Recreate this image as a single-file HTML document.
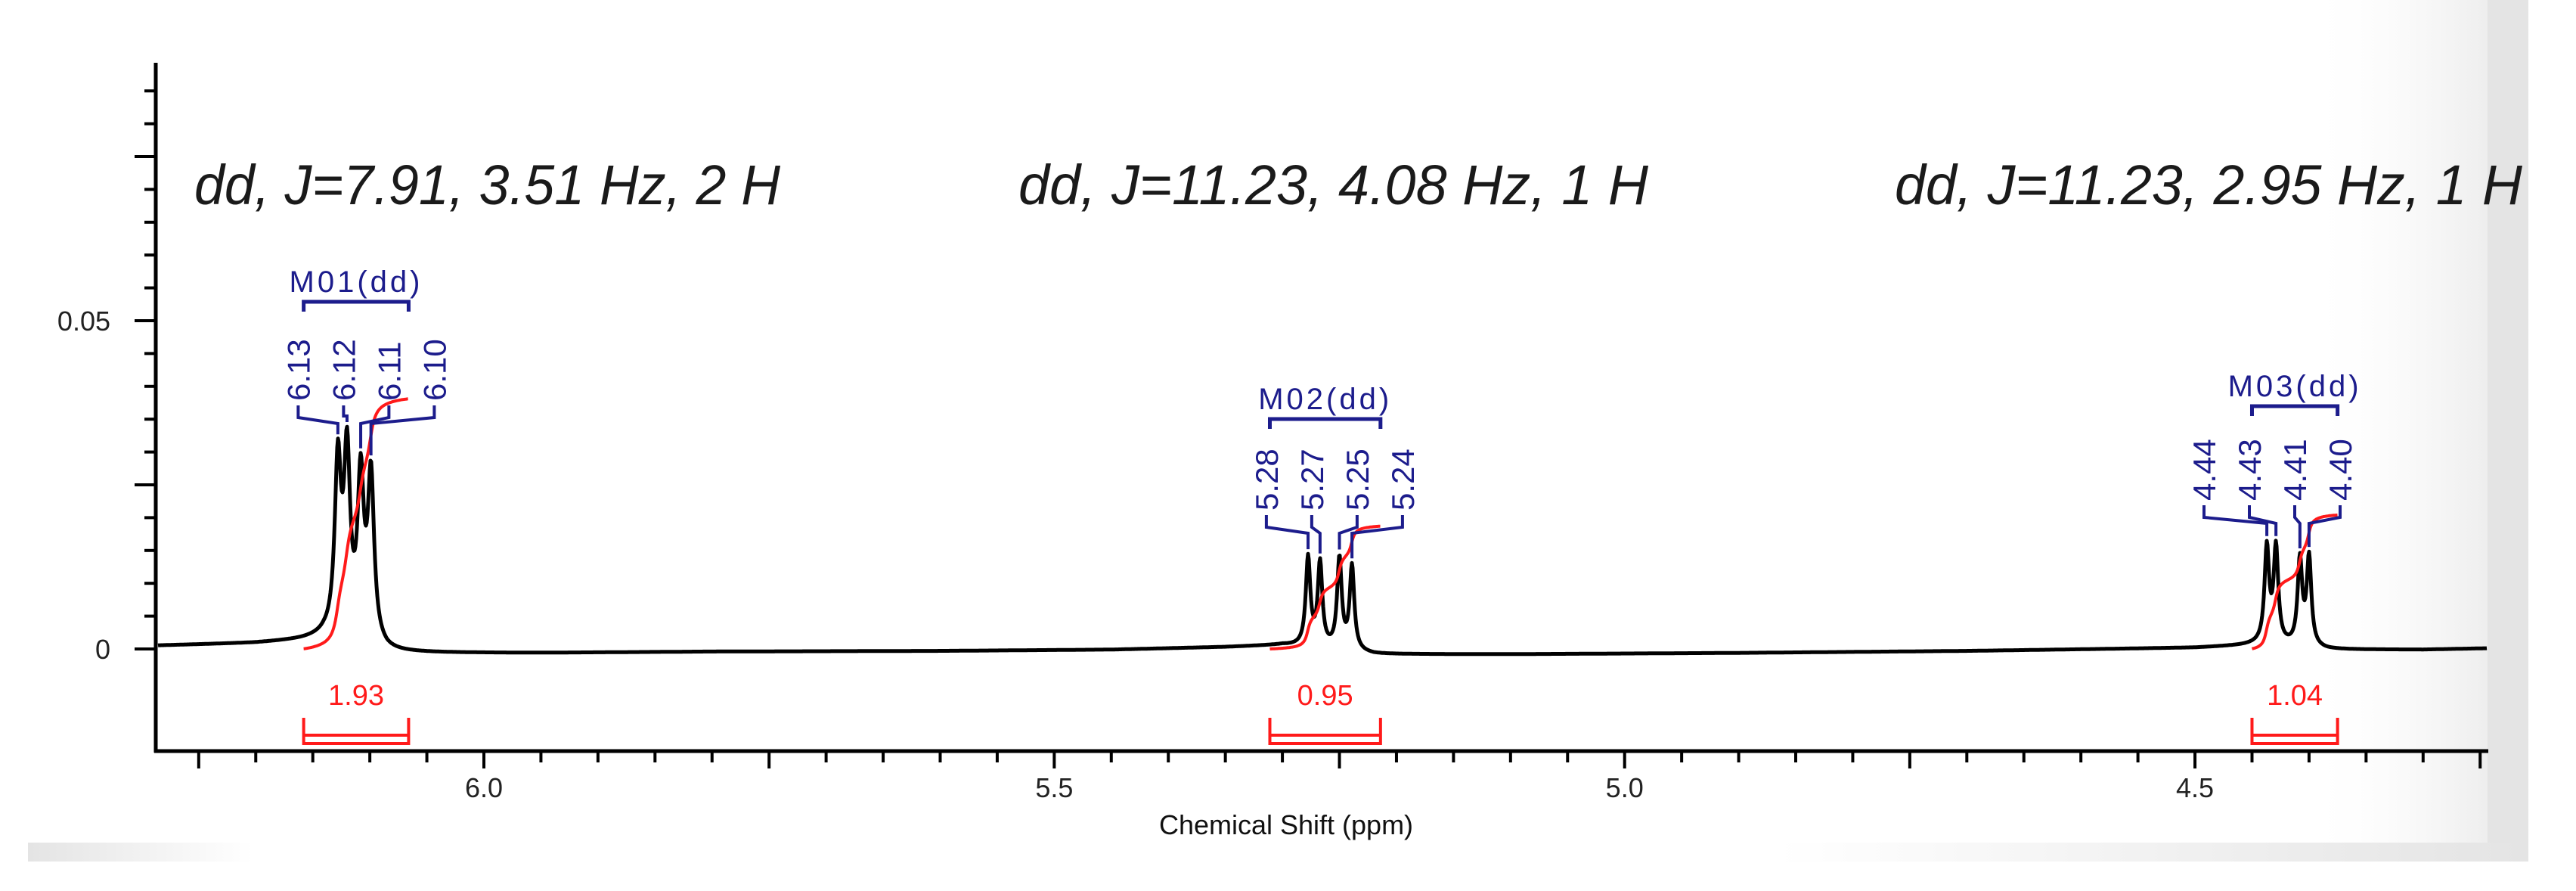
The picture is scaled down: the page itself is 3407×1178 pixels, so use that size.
<!DOCTYPE html>
<html><head><meta charset="utf-8"><style>
html,body{margin:0;padding:0;background:#fff;}
svg{display:block;}
text{font-family:"Liberation Sans",sans-serif;}
</style></head><body>
<svg id="chart" width="3407" height="1178" viewBox="0 0 3407 1178" xmlns="http://www.w3.org/2000/svg">
<defs>
<linearGradient id="gR" x1="0" x2="1" y1="0" y2="0"><stop offset="0" stop-color="#ffffff" stop-opacity="0"/><stop offset="1" stop-color="#e2e2e2"/></linearGradient>
<linearGradient id="gB" x1="0" x2="1" y1="0" y2="0"><stop offset="0" stop-color="#e4e4e4"/><stop offset="0.09" stop-color="#ffffff"/><stop offset="0.7" stop-color="#ffffff"/><stop offset="1" stop-color="#e4e4e4"/></linearGradient>
</defs>
<rect x="0" y="0" width="3407" height="1178" fill="#fff"/>
<rect x="3050" y="0" width="240" height="1114" fill="url(#gR)" opacity="0.6"/>
<rect x="3290" y="0" width="54" height="1139" fill="#e4e4e4"/>
<rect x="37" y="1114" width="3307" height="25" fill="url(#gB)"/>
<g id="axes"></g>
<g id="plot"></g>
<text x="1701" y="1103" font-size="36" text-anchor="middle" fill="#111">Chemical Shift (ppm)</text>
<g font-style="italic" font-size="74" fill="#1a1a1a">
<text x="257" y="270" textLength="775" lengthAdjust="spacingAndGlyphs">dd, J=7.91, 3.51 Hz, 2 H</text>
<text x="1347" y="270" textLength="833" lengthAdjust="spacingAndGlyphs">dd, J=11.23, 4.08 Hz, 1 H</text>
<text x="2506" y="270" textLength="830" lengthAdjust="spacingAndGlyphs">dd, J=11.23, 2.95 Hz, 1 H</text>
</g>
</svg>
<script>
// ---- data ----
const xTickLabels = [6.0, 5.5, 5.0, 4.5];
const yTickLabels = [0, 0.05];
const peakPpm    = [6.128, 6.120, 6.108, 6.099, 5.2775, 5.267, 5.250, 5.239, 4.437, 4.429, 4.408, 4.400];
const peakHeight = [0.026, 0.027, 0.024, 0.025, 0.0135, 0.0128, 0.0138, 0.0128, 0.0145, 0.0145, 0.0130, 0.0135];
const peakWidth  = [0.0033, 0.0033, 0.0033, 0.0033, 0.0024, 0.0024, 0.0024, 0.0024, 0.0024, 0.0024, 0.0024, 0.0024];
const peakLabels = ["6.13","6.12","6.11","6.10","5.28","5.27","5.25","5.24","4.44","4.43","4.41","4.40"];
const basePpm = [6.29, 6.2, 6.16, 6.14, 6.085, 5.95, 5.8, 5.6, 5.45, 5.35, 5.30, 5.22, 5.1, 4.9, 4.7, 4.5, 4.46, 4.44, 4.385, 4.3, 4.244];
const baseVal = [0.0005, 0.0009, 0.0013, 0.0016, -0.0006, -0.0006, -0.0004, -0.0003, -0.0001, 0.0003, 0.0006, -0.0008, -0.0008, -0.0006, -0.0003, 0.0002, 0.0005, 0.0007, -0.0001, -0.0001, 0.0001];
const multNames = ["M01(dd)", "M02(dd)", "M03(dd)"];
const multStart = [6.158, 5.311, 4.450];
const multEnd   = [6.066, 5.214, 4.375];
const integralValues = ["1.93", "0.95", "1.04"];
const integralLevel  = [0.0381, 0.0187, 0.0204];

// ---- scales ----
const X0 = 206, X1 = 3289, Y0 = 858;
function X(v){ return 640 + (6.0 - v) * 1508.7; }
function Y(v){ return Y0 - v * 8680; }
function V(px){ return 6.0 - (px - 640) / 1508.7; }
const NS = "http://www.w3.org/2000/svg";
function mk(tag, attrs, parent){ const e = document.createElementNS(NS, tag); for (const k in attrs) e.setAttribute(k, attrs[k]); parent.appendChild(e); return e; }
const axes = document.getElementById('axes');
const plot = document.getElementById('plot');

function baseline(v){
  for (let i = 0; i < basePpm.length - 1; i++){
    const a = basePpm[i], b = basePpm[i+1];
    if (v <= a && v >= b){ const t = (a - v) / (a - b); return baseVal[i] + t * (baseVal[i+1] - baseVal[i]); }
  }
  return v > basePpm[0] ? baseVal[0] : baseVal[baseVal.length-1];
}
function peaks(v){ let s = 0; for (let i = 0; i < peakPpm.length; i++){ const d = (v - peakPpm[i]) / peakWidth[i]; s += peakHeight[i] / (1 + d*d); } return s; }
function spec(v){ return baseline(v) + peaks(v); }

// ---- axes ----
const yAxis = mk('line', {x1:X0, y1:83, x2:X0, y2:995, stroke:'#000', 'stroke-width':5}, axes);


const xAxis = mk('line', {x1:X0-2, y1:993, x2:X1+2, y2:993, stroke:'#000', 'stroke-width':5}, axes);


for (let k = 0; k <= 17; k++){
  const v = k * 0.005; const y = Y(v); const big = (k % 5 === 0);
  const t = mk('line', {x1: big ? 178 : 191, y1:y, x2:X0, y2:y, stroke:'#000', 'stroke-width':4}, axes);
  
  
}
yTickLabels.forEach(v => {
  const t = mk('text', {x:146, y:Y(v)+13, 'font-size':36, 'text-anchor':'end', fill:'#222'}, axes);
  t.textContent = v === 0 ? '0' : v.toFixed(2);
  
  
});
for (let k = 0; ; k++){
  const v = 6.25 - k * 0.05; if (v < 4.244) break;
  const x = X(v); const big = Math.abs(Math.round(v*4) - v*4) < 1e-6;
  const t = mk('line', {x1:x, y1:993, x2:x, y2: big ? 1016 : 1008, stroke:'#000', 'stroke-width':4}, axes);
  
  
}
xTickLabels.forEach(v => {
  const t = mk('text', {x:X(v), y:1054, 'font-size':36, 'text-anchor':'middle', fill:'#222'}, axes);
  t.textContent = v.toFixed(1);
  
  
});

// ---- spectrum ----
let d = '';
for (let px = X0 + 3; px <= X1; px += 1){ const v = V(px); d += (d ? 'L' : 'M') + px + ',' + Y(spec(v)).toFixed(1); }
const sp = mk('path', {d:d, fill:'none', stroke:'#000', 'stroke-width':5, 'stroke-linejoin':'round'}, plot);



// ---- integrals & multiplets ----
const labelShift = [16, 6, -21];
const labelBottom = [530, 675, 662];
const bracketY = [399, 554, 537];
for (let m = 0; m < 3; m++){
  const xs = X(multStart[m]), xe = X(multEnd[m]);
  let cum = 0, pts = [];
  for (let px = xs; px <= xe; px += 1){ cum += Math.max(0, spec(V(px)) - baseline(V(px))); pts.push([px, cum]); }
  let id = '';
  pts.forEach(p => { id += (id ? 'L' : 'M') + p[0].toFixed(1) + ',' + Y(p[1] / cum * integralLevel[m]).toFixed(1); });
  const ic = mk('path', {d:id, fill:'none', stroke:'#ff1a1a', 'stroke-width':4}, plot);
  
  
  const ib = mk('path', {d:`M${xs},949 V983 H${xe} V949 M${xs},972 H${xe}`, fill:'none', stroke:'#ff1a1a', 'stroke-width':4}, plot);
  
  
  const it = mk('text', {x:(xs+xe)/2, y:932, 'font-size':38, 'text-anchor':'middle', fill:'#ff1a1a'}, plot);
  it.textContent = integralValues[m];
  
  
  const by = bracketY[m];
  const mb = mk('path', {d:`M${xs},${by+13} V${by} H${xe} V${by+13}`, fill:'none', stroke:'#1c1c8c', 'stroke-width':5}, plot);
  
  
  const mt = mk('text', {x:(xs+xe)/2, y:by-13, 'font-size':40, 'text-anchor':'middle', fill:'#1c1c8c', 'letter-spacing':'4'}, plot);
  mt.textContent = multNames[m];
  
  
  let c = 0; for (let i = 4*m; i < 4*m+4; i++) c += X(peakPpm[i]); c /= 4;
  for (let j = 0; j < 4; j++){
    const i = 4*m + j;
    const lx = c + labelShift[m] + (j - 1.5) * 60;
    const lb = labelBottom[m];
    const ppx = X(peakPpm[i]);
    const top = Y(spec(peakPpm[i]));
    const mid = Math.min(lb + 30, top - 14);
    const cn = mk('path', {d:`M${lx},${lb+6} V${Math.min(lb+22, mid)} L${ppx},${mid} V${top-6}`, fill:'none', stroke:'#1c1c8c', 'stroke-width':4}, plot);
    
    
    const pt = mk('text', {x:lx+15, y:lb, 'font-size':42, fill:'#1c1c8c', transform:`rotate(-90 ${lx+15} ${lb})`}, plot);
    pt.textContent = peakLabels[i];
    
    
  }
}
</script>
</body></html>
